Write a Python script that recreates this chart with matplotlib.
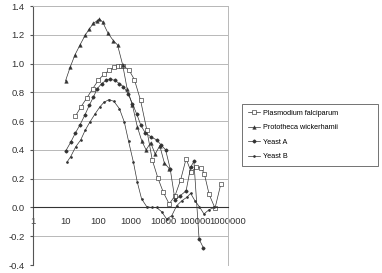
import matplotlib
matplotlib.use("Agg")
import matplotlib.pyplot as plt
from matplotlib.ticker import FixedLocator, NullLocator

plt.rcParams['font.family'] = ['Liberation Sans', 'DejaVu Sans']

# dilution (x) and response (y)
plasmodium_x = [20, 30, 45, 69, 102, 151, 224, 316, 398, 501, 603, 912, 1318, 2042,
                3162, 4677, 6918, 10233, 15488, 23442, 34674, 51286, 74131, 104713,
                147911, 186209, 263027, 398107, 602560]
plasmodium_y = [0.633, 0.70, 0.76, 0.826, 0.884, 0.925, 0.953, 0.976, 0.985, 0.985,
                0.983, 0.953, 0.888, 0.744, 0.54, 0.33, 0.206, 0.105, 0.024, 0.082,
                0.19, 0.338, 0.245, 0.28, 0.275, 0.235, 0.09, -0.005, 0.164]

prototheca_x = [10, 14, 19.5, 28, 41, 54, 72, 91, 110, 138, 204, 295, 398, 575, 794,
                1148, 1622, 2239, 3020, 4169, 5754, 7943, 10965, 15488]
prototheca_y = [0.88, 0.976, 1.06, 1.13, 1.20, 1.24, 1.28, 1.295, 1.31, 1.29, 1.21,
                1.16, 1.13, 0.99, 0.82, 0.71, 0.56, 0.46, 0.40, 0.45, 0.37, 0.43,
                0.31, 0.27]

yeast_a_x = [10, 14.5, 20, 28, 39, 54, 72, 95, 129, 178, 234, 331, 457, 603, 851,
             1148, 1549, 2089, 2818, 4266, 6310, 8710, 12023, 16596, 23442, 33113,
             51286, 70795, 89125, 128825, 173780]
yeast_a_y = [0.39, 0.454, 0.516, 0.575, 0.64, 0.71, 0.767, 0.826, 0.86, 0.884, 0.89,
             0.884, 0.86, 0.84, 0.79, 0.72, 0.65, 0.57, 0.52, 0.49, 0.47, 0.435,
             0.40, 0.27, 0.05, 0.08, 0.115, 0.28, 0.32, -0.22, -0.28]

yeast_b_x = [11, 14.5, 20.4, 29.5, 40, 56, 81, 115, 151, 219, 309, 457, 646, 871,
             1230, 1622, 2188, 3162, 4467, 6310, 9120, 12882, 18621, 26303, 38019,
             53703, 70795, 95499, 131826, 181970, 263027, 380189]
yeast_b_y = [0.314, 0.354, 0.42, 0.47, 0.535, 0.593, 0.65, 0.70, 0.73, 0.75, 0.737,
             0.686, 0.593, 0.46, 0.314, 0.175, 0.06, 0.005, 0.0, 0.0, -0.03, -0.08,
             -0.057, 0.012, 0.047, 0.07, 0.098, 0.047, 0.005, -0.045, -0.015, 0.0]

x_ticks = [1, 10, 100, 1000, 10000, 100000, 1000000]
y_ticks = [-0.4, -0.2, 0.0, 0.2, 0.4, 0.6, 0.8, 1.0, 1.2, 1.4]

fig = plt.figure(figsize=(3.82, 2.73), dpi=100)
ax = fig.add_axes([0.0864, 0.0293, 0.5105, 0.9487])

lc = '#333333'
ax.plot(plasmodium_x, plasmodium_y, color=lc, lw=0.5, marker='s', ms=2.7,
        mfc='white', mec=lc, mew=0.45, label='Plasmodium falciparum')
ax.plot(prototheca_x, prototheca_y, color=lc, lw=0.5, marker='^', ms=2.6,
        mfc=lc, mec=lc, mew=0.3, label='Prototheca wickerhamii')
ax.plot(yeast_a_x, yeast_a_y, color=lc, lw=0.5, marker='D', ms=1.5,
        mfc=lc, mec=lc, label='Yeast A')
ax.plot(yeast_b_x, yeast_b_y, color=lc, lw=0.5, marker='o', ms=0.9,
        mfc=lc, mec=lc, label='Yeast B')

ax.set_xscale('log')
ax.set_xlim(1, 1e6)
ax.set_ylim(-0.4, 1.4)
ax.xaxis.set_major_locator(FixedLocator(x_ticks))
ax.xaxis.set_minor_locator(NullLocator())
ax.set_xticklabels([str(v) for v in x_ticks])
ax.set_yticks(y_ticks)
ax.set_yticklabels(['%.1f' % v for v in y_ticks])

for v in y_ticks:
    ax.axhline(v, color='#b8b8b8', lw=0.7, zorder=0)

ax.spines['bottom'].set_position(('data', 0))
ax.spines['bottom'].set_color('#333333')
ax.spines['bottom'].set_linewidth(0.8)
ax.spines['left'].set_color('#555555')
ax.spines['left'].set_linewidth(0.8)
ax.spines['top'].set_color('#b8b8b8')
ax.spines['right'].set_color('#b8b8b8')
ax.spines['top'].set_linewidth(0.7)
ax.spines['right'].set_linewidth(0.7)

ax.tick_params(axis='x', length=0, pad=7, labelsize=6.8, labelcolor='#333333')
ax.tick_params(axis='y', length=2, pad=4, labelsize=6.8, labelcolor='#333333',
               color='#555555')

leg = fig.legend(loc='upper left', bbox_to_anchor=(0.634, 0.40, 0.356, 0.22),
                 mode='expand', fontsize=5.2,
                 frameon=True, fancybox=False, edgecolor='#333333',
                 handlelength=1.6, handletextpad=0.5, borderpad=0.8,
                 labelspacing=1.05, borderaxespad=0)
leg.get_frame().set_linewidth(0.6)

fig.savefig('out.png', dpi=100)
